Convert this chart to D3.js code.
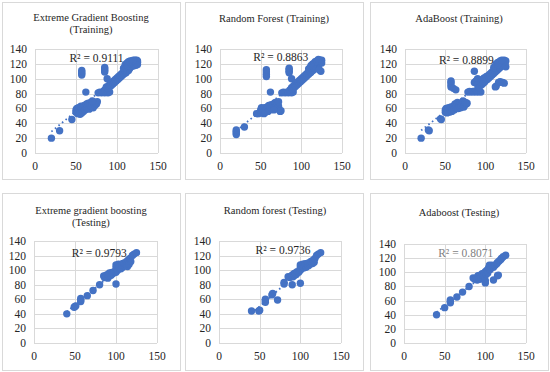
<!DOCTYPE html>
<html>
<head>
<meta charset="utf-8">
<script src="https://d3js.org/d3.v7.min.js"></script>
<style>
  body { margin: 0; background: #fff; }
  text { font-family: "Liberation Serif", "Times New Roman", serif; }
</style>
</head>
<body>
<svg width="550" height="372"></svg>
<script>
// tick labels
var xTicks = [0, 50, 100, 150];
var yTicks = [0, 20, 40, 60, 80, 100, 120, 140];

var xgbTrain = [
  [20,20],[30,30],[45,45],
  [50,55],[50,58],[51,60],[52,53],[52,57],[53,61],[54,55],[54,59],[55,52],[55,57],[56,60],[56,63],[57,54],[58,58],[58,62],[59,56],[60,60],[60,64],
  [57,105],[57,107],[57,109],[57,111],[62,82],
  [61,58],[62,62],[63,66],[64,61],[65,63],[65,67],[66,59],[67,64],[68,68],[69,62],[70,65],[71,61],[72,67],[73,64],[74,68],[75,66],[76,69],[70,70],
  [77,81],[79,82],[81,81],[83,82],[85,81],[87,82],[89,81],[91,82],
  [85,109],[85,111],[85,113],[85,115],[88,100],
  [84,84],[86,86],[87,89],[89,87],[90,91],[91,89],[92,93],[93,91],[94,95],[95,93],[96,97],[97,95],[98,99],[99,97],
  [100,101],[101,99],[102,103],[103,101],[104,105],[105,103],[106,107],[107,105],[108,109],[109,107],[110,111],[111,108],
  [112,113],[112,110],[113,115],[114,111],[115,117],[115,113],[116,119],[116,115],[117,121],[117,116],[118,122],[118,118],
  [119,120],[119,124],[120,117],[120,121],[121,123],[121,119],[122,125],[122,121],[123,118],[123,123],[124,125],[124,120],
  [125,122],[125,124],[125,119],
  [108,114],[110,116],[110,119],[112,118],[112,121],[113,117],[114,120],[114,123],[116,122],[116,124],[118,124],[120,125]
];

var rfTrain = [
  [20,25],[20,27],[20,29],[20,31],[30,35],[45,53],[47,53],
  [50,54],[50,58],[51,61],[52,55],[53,59],[54,53],[55,57],[55,61],[56,55],[57,59],[58,62],[59,56],[60,60],[60,64],
  [57,103],[57,106],[57,109],[57,112],[62,82],
  [61,58],[62,62],[63,65],[64,60],[65,63],[66,66],[67,61],[68,64],[68,68],[69,62],[70,66],[71,60],[72,63],[73,58],[74,56],[75,57],[72,69],[66,58],
  [76,81],[78,82],[80,81],[82,82],[84,81],[86,82],[88,81],[90,82],
  [85,108],[85,110],[85,112],[85,114],[88,100],
  [86,85],[88,88],[89,86],[90,90],[91,88],[92,92],[93,90],[94,94],[95,92],[96,96],[97,94],[98,98],[99,96],
  [100,100],[101,98],[102,102],[103,100],[104,104],[105,102],[106,106],[107,104],[108,108],[109,106],[110,110],[111,108],
  [112,112],[112,109],[113,114],[114,111],[115,116],[115,112],[116,118],[116,114],[117,120],[118,116],[118,121],[119,118],
  [120,122],[120,119],[121,124],[122,120],[122,123],[123,125],[123,121],[124,123],[125,125],[125,121],[124,110],[122,112],
  [109,113],[111,115],[112,118],[114,117],[114,120],[116,121],[117,123],[119,124],[121,126]
];

var adaTrain = [
  [20,20],[30,30],[29,31],[45,45],[44,46],
  [50,55],[50,58],[51,60],[52,54],[53,57],[54,61],[55,55],[56,59],[57,62],[58,56],[59,60],[60,63],[61,58],[62,66],[63,61],
  [64,64],[65,68],[66,60],[67,63],[68,66],[69,61],[70,64],[71,67],[72,70],[73,62],[74,65],[75,68],[76,66],[77,67],
  [57,89],[57,92],[57,95],[57,97],[60,87],[63,85],
  [78,82],[80,83],[82,82],[84,83],[86,82],[88,84],[90,82],[92,83],[94,82],
  [86,110],
  [86,95],[88,97],[90,100],[90,92],[92,88],[94,96],[95,92],[96,99],[97,94],[98,101],[99,96],
  [100,100],[101,103],[102,99],[103,104],[104,101],[105,106],[106,103],[107,108],[108,105],[109,110],[110,107],[111,112],
  [112,109],[113,114],[114,111],[115,116],[116,113],[117,118],[118,115],[119,120],[120,117],[120,122],[121,119],[122,123],
  [122,120],[123,125],[124,122],[125,124],[125,116],[124,118],
  [110,115],[112,117],[113,120],[115,119],[115,122],[117,121],[118,124],[120,125],
  [112,89],[113,90],[116,95],[118,96],[121,95],[123,94]
];

var xgbTest = [
  [40,40],[49,49],[50,50],[51,51],[57,57],[57,59],[57,61],[65,65],[72,72],[80,80],
  [85,92],[86,90],[88,93],[88,91],[90,89],[90,94],[92,92],[92,96],[94,93],[95,97],[96,95],[98,98],
  [100,81],[100,97],[100,103],[100,107],[101,105],[102,100],[103,108],[104,104],[105,106],[106,102],[107,108],
  [108,104],[108,109],[110,106],[110,110],[112,108],[113,112],[114,105],[115,110],[115,114],[116,108],[117,116],
  [118,112],[120,120],[122,122],[125,124]
];

var rfTest = [
  [40,44],[49,44],[50,45],[57,56],[57,58],[57,60],[65,66],[66,68],[72,59],[80,81],[80,83],[90,80],[100,82],
  [85,91],[87,90],[89,92],[90,93],[91,91],[92,95],[93,93],[94,96],[95,94],[96,98],[98,97],
  [100,100],[100,104],[100,107],[101,102],[102,105],[103,108],[104,103],[105,106],[106,109],[107,104],[108,108],
  [110,106],[110,110],[112,108],[113,112],[115,109],[116,114],[117,111],[118,116],[120,120],[122,122],[125,124]
];

var adaTest = [
  [40,40],[50,50],[57,57],[57,59],[57,61],[65,65],[72,72],[80,80],
  [85,92],[87,90],[89,92],[90,89],[91,95],[92,92],[93,90],[94,96],[95,93],[96,98],[97,91],[98,95],[99,99],
  [100,85],[100,88],[100,101],[101,97],[102,103],[103,99],[104,106],[105,110],[106,104],[107,108],[108,110],
  [110,89],[110,107],[112,110],[114,112],[115,95],[116,96],[115,114],[117,116],[119,118],[120,120],[122,122],[125,124]
];

var titles = [
  ["Extreme Gradient Boosting", "(Training)"],
  ["Random Forest (Training)"],
  ["AdaBoost (Training)"],
  ["Extreme gradient boosting", "(Testing)"],
  ["Random forest (Testing)"],
  ["Adaboost (Testing)"]
];
var r2Labels = ["R\u00b2 = 0.9111", "R\u00b2 = 0.8863", "R\u00b2 = 0.8899", "R\u00b2 = 0.9793", "R\u00b2 = 0.9736", "R\u00b2 = 0.8071"];
var series = [xgbTrain, rfTrain, adaTrain, xgbTest, rfTest, adaTest];

// layout of each panel: frame, plot rect [left,right,bottom,top], title lines y, label anchor (data units)
var layout = [
  {box: [2, 2], plot: [35, 158, 153, 49], ty: [17, 29], tx: 91, r2: [42, 128], r2c: "#262626"},
  {box: [185, 2], plot: [220, 342, 153, 49], ty: [18], tx: 274, r2: [41, 129], r2c: "#262626"},
  {box: [370, 2], plot: [405, 526, 153, 49], ty: [18], tx: 459, r2: [42, 125], r2c: "#262626"},
  {box: [2, 193], plot: [34, 157, 343, 241], ty: [210, 222], tx: 91, r2: [46, 124], r2c: "#262626"},
  {box: [185, 193], plot: [219, 341, 343, 241], ty: [210], tx: 275, r2: [45, 128], r2c: "#262626"},
  {box: [370, 193], plot: [404, 526, 343, 244], ty: [212], tx: 459, r2: [42, 127], r2c: "#7f7f7f"}
];

var svg = d3.select("svg");
var blue = "#4472C4";

layout.forEach(function(L, i) {
  var g = svg.append("g");

  g.append("rect")
    .attr("x", L.box[0] + 0.5).attr("y", L.box[1] + 0.5)
    .attr("width", 178).attr("height", 177)
    .attr("fill", "#fff").attr("stroke", "#d9d9d9");

  var x = d3.scaleLinear().domain([0, 150]).range([L.plot[0], L.plot[1]]);
  var y = d3.scaleLinear().domain([0, 140]).range([L.plot[2], L.plot[3]]);

  // gridlines
  g.selectAll(".gy").data(yTicks).enter().append("line")
    .attr("x1", x(0)).attr("x2", x(150))
    .attr("y1", function(d) { return Math.round(y(d)) + 0.5; })
    .attr("y2", function(d) { return Math.round(y(d)) + 0.5; })
    .attr("stroke", "#d9d9d9");
  g.selectAll(".gx").data(xTicks).enter().append("line")
    .attr("y1", y(0)).attr("y2", y(140))
    .attr("x1", function(d) { return Math.round(x(d)) + 0.5; })
    .attr("x2", function(d) { return Math.round(x(d)) + 0.5; })
    .attr("stroke", "#d9d9d9");

  // tick labels
  g.selectAll(".ly").data(yTicks).enter().append("text")
    .attr("x", x(0) - 8).attr("y", function(d) { return y(d); })
    .attr("dy", "0.35em").attr("text-anchor", "end")
    .attr("font-size", 11.5).attr("fill", "#262626")
    .text(function(d) { return d; });
  g.selectAll(".lx").data(xTicks).enter().append("text")
    .attr("x", function(d) { return x(d); }).attr("y", y(0) + 13)
    .attr("dy", "0.35em").attr("text-anchor", "middle")
    .attr("font-size", 11.5).attr("fill", "#262626")
    .text(function(d) { return d; });

  // title
  g.selectAll(".t").data(titles[i]).enter().append("text")
    .attr("x", L.tx).attr("y", function(d, k) { return L.ty[k]; })
    .attr("dy", "0.35em").attr("text-anchor", "middle")
    .attr("font-size", 10.5).attr("fill", "#262626")
    .text(function(d) { return d; });

  var pts = series[i];

  // linear trend line (least squares)
  var mx = d3.mean(pts, function(d) { return d[0]; });
  var my = d3.mean(pts, function(d) { return d[1]; });
  var sxy = d3.sum(pts, function(d) { return (d[0] - mx) * (d[1] - my); });
  var sxx = d3.sum(pts, function(d) { return (d[0] - mx) * (d[0] - mx); });
  var b = sxy / sxx, a = my - b * mx;
  var ex = d3.extent(pts, function(d) { return d[0]; });

  g.selectAll(".pt").data(pts).enter().append("circle")
    .attr("cx", function(d) { return x(d[0]); })
    .attr("cy", function(d) { return y(d[1]); })
    .attr("r", 3.7)
    .attr("fill", blue);

  g.append("line")
    .attr("x1", x(ex[0])).attr("y1", y(a + b * ex[0]))
    .attr("x2", x(ex[1])).attr("y2", y(a + b * ex[1]))
    .attr("stroke", blue).attr("stroke-width", 1.8)
    .attr("stroke-dasharray", "1.6,3");

  g.append("text")
    .attr("x", x(L.r2[0])).attr("y", y(L.r2[1]))
    .attr("dy", "0.35em")
    .attr("font-size", 11.5).attr("fill", L.r2c)
    .text(r2Labels[i]);
});
</script>
</body>
</html>
